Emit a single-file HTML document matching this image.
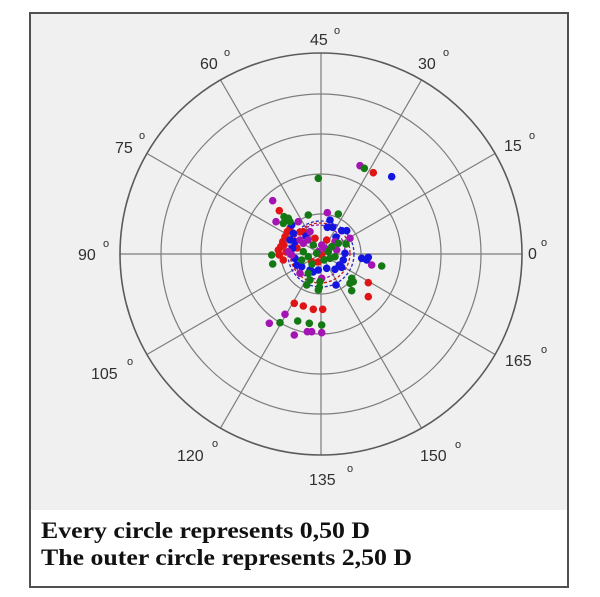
<!DOCTYPE html>
<html><head><meta charset="utf-8"><style>
html,body{margin:0;padding:0;background:#fff;}
svg{display:block;}
</style></head><body>
<svg width="600" height="597" viewBox="0 0 600 597" xmlns="http://www.w3.org/2000/svg">
<rect x="0" y="0" width="600" height="597" fill="#ffffff"/>
<rect x="30" y="13" width="538" height="497" fill="#f0f0f0"/>
<rect x="30" y="13" width="538" height="574" fill="none" stroke="#505050" stroke-width="2"/>
<g stroke="#7d7d7d" stroke-width="1.2" fill="none">
<circle cx="321" cy="254" r="40"/>
<circle cx="321" cy="254" r="80"/>
<circle cx="321" cy="254" r="120"/>
<circle cx="321" cy="254" r="160"/>
<line x1="120" y1="254" x2="522" y2="254"/>
<line x1="321" y1="53" x2="321" y2="455"/>
<line x1="495.1" y1="153.5" x2="146.9" y2="354.5"/>
<line x1="421.5" y1="79.9" x2="220.5" y2="428.1"/>
<line x1="220.5" y1="79.9" x2="421.5" y2="428.1"/>
<line x1="146.9" y1="153.5" x2="495.1" y2="354.5"/>
</g>
<circle cx="321" cy="254" r="201" fill="none" stroke="#5a5a5a" stroke-width="1.6"/>
<g font-family="Liberation Sans, Arial, sans-serif" font-size="16" fill="#303030">
<text x="528" y="259">0</text><text x="541" y="246" font-size="11">o</text>
<text x="504" y="151">15</text><text x="529" y="139" font-size="11">o</text>
<text x="418" y="69">30</text><text x="443" y="56" font-size="11">o</text>
<text x="310" y="45">45</text><text x="334" y="34" font-size="11">o</text>
<text x="200" y="69">60</text><text x="224" y="56" font-size="11">o</text>
<text x="115" y="153">75</text><text x="139" y="139" font-size="11">o</text>
<text x="78" y="260">90</text><text x="103" y="247" font-size="11">o</text>
<text x="91" y="379">105</text><text x="127" y="365" font-size="11">o</text>
<text x="177" y="461">120</text><text x="212" y="447" font-size="11">o</text>
<text x="309" y="485">135</text><text x="347" y="472" font-size="11">o</text>
<text x="420" y="461">150</text><text x="455" y="448" font-size="11">o</text>
<text x="505" y="366">165</text><text x="541" y="353" font-size="11">o</text>
</g>
<g fill="none" stroke-width="1.3" stroke-dasharray="3,2">
<circle cx="318" cy="252" r="27" stroke="#9018a8"/>
<circle cx="320" cy="253" r="30" stroke="#c81818"/>
<circle cx="321" cy="254" r="33" stroke="#2828c8"/>
</g>
<g fill="#e01414">
<circle cx="373.3" cy="172.7" r="3.8"/><circle cx="279.3" cy="210.7" r="3.8"/><circle cx="303.3" cy="231.7" r="3.8"/><circle cx="287.3" cy="231.7" r="3.8"/><circle cx="285" cy="236.7" r="3.8"/><circle cx="282.7" cy="241.7" r="3.8"/><circle cx="280.7" cy="246.7" r="3.8"/><circle cx="278.3" cy="250" r="3.8"/><circle cx="279.3" cy="255" r="3.8"/><circle cx="283.3" cy="260" r="3.8"/><circle cx="315" cy="238.3" r="3.8"/><circle cx="326.7" cy="240" r="3.8"/><circle cx="321.7" cy="255" r="3.8"/><circle cx="311.7" cy="261.7" r="3.8"/><circle cx="368.3" cy="282.7" r="3.8"/><circle cx="368.3" cy="296.7" r="3.8"/><circle cx="294.3" cy="303.3" r="3.8"/><circle cx="303.3" cy="306" r="3.8"/><circle cx="313.3" cy="309.3" r="3.8"/><circle cx="322.7" cy="309.3" r="3.8"/><circle cx="290" cy="228" r="3.8"/><circle cx="284" cy="245" r="3.8"/><circle cx="286" cy="252" r="3.8"/><circle cx="300" cy="232" r="3.8"/><circle cx="318" cy="262" r="3.8"/><circle cx="297" cy="248" r="3.8"/>
</g>
<g fill="#1414e0">
<circle cx="391.7" cy="176.7" r="3.8"/><circle cx="291.7" cy="225" r="3.8"/><circle cx="330" cy="220" r="3.8"/><circle cx="332.7" cy="227.3" r="3.8"/><circle cx="341.7" cy="230.7" r="3.8"/><circle cx="346.7" cy="230.7" r="3.8"/><circle cx="293.3" cy="233.3" r="3.8"/><circle cx="295" cy="241.7" r="3.8"/><circle cx="292.7" cy="248.3" r="3.8"/><circle cx="295" cy="258.3" r="3.8"/><circle cx="296.7" cy="265" r="3.8"/><circle cx="301.7" cy="266.7" r="3.8"/><circle cx="310" cy="270" r="3.8"/><circle cx="318.3" cy="270" r="3.8"/><circle cx="326.7" cy="268.3" r="3.8"/><circle cx="335" cy="269.3" r="3.8"/><circle cx="341.7" cy="267.3" r="3.8"/><circle cx="343.3" cy="260" r="3.8"/><circle cx="345" cy="253.3" r="3.8"/><circle cx="339.3" cy="265" r="3.8"/><circle cx="336" cy="285" r="3.8"/><circle cx="361.7" cy="258.3" r="3.8"/><circle cx="366.7" cy="260" r="3.8"/><circle cx="368.3" cy="257.3" r="3.8"/><circle cx="327.3" cy="227.3" r="3.8"/><circle cx="313" cy="272" r="3.8"/><circle cx="290" cy="240" r="3.8"/><circle cx="306" cy="236" r="3.8"/><circle cx="336" cy="237" r="3.8"/>
</g>
<g fill="#a414b4">
<circle cx="360" cy="165.7" r="3.8"/><circle cx="272.7" cy="200.7" r="3.8"/><circle cx="276" cy="221.7" r="3.8"/><circle cx="298.3" cy="221.7" r="3.8"/><circle cx="327.3" cy="212.7" r="3.8"/><circle cx="350" cy="238.3" r="3.8"/><circle cx="310" cy="231.7" r="3.8"/><circle cx="300" cy="240" r="3.8"/><circle cx="303.3" cy="243.3" r="3.8"/><circle cx="288.3" cy="251.7" r="3.8"/><circle cx="291.7" cy="255" r="3.8"/><circle cx="318.3" cy="251.7" r="3.8"/><circle cx="321.7" cy="245" r="3.8"/><circle cx="325" cy="248.3" r="3.8"/><circle cx="335" cy="241.7" r="3.8"/><circle cx="336.7" cy="250" r="3.8"/><circle cx="321.7" cy="278.3" r="3.8"/><circle cx="300" cy="273.3" r="3.8"/><circle cx="285" cy="314.3" r="3.8"/><circle cx="269.3" cy="323.3" r="3.8"/><circle cx="307.3" cy="331.7" r="3.8"/><circle cx="311.7" cy="331.7" r="3.8"/><circle cx="321.7" cy="332.7" r="3.8"/><circle cx="294.3" cy="335" r="3.8"/><circle cx="371.7" cy="265" r="3.8"/><circle cx="308" cy="240" r="3.8"/>
</g>
<g fill="#147814">
<circle cx="364.3" cy="168.3" r="3.8"/><circle cx="318.3" cy="178.3" r="3.8"/><circle cx="284" cy="216.7" r="3.8"/><circle cx="288.3" cy="218.3" r="3.8"/><circle cx="283.3" cy="223.3" r="3.8"/><circle cx="290" cy="221.7" r="3.8"/><circle cx="308.3" cy="215" r="3.8"/><circle cx="338.3" cy="214" r="3.8"/><circle cx="346" cy="244" r="3.8"/><circle cx="313.3" cy="245" r="3.8"/><circle cx="316.7" cy="253.3" r="3.8"/><circle cx="308.3" cy="256.7" r="3.8"/><circle cx="301.7" cy="260" r="3.8"/><circle cx="303.3" cy="251.7" r="3.8"/><circle cx="328.3" cy="251.7" r="3.8"/><circle cx="331.7" cy="246.7" r="3.8"/><circle cx="335" cy="256.7" r="3.8"/><circle cx="330" cy="258.3" r="3.8"/><circle cx="338.3" cy="243.3" r="3.8"/><circle cx="271.7" cy="255" r="3.8"/><circle cx="272.7" cy="264" r="3.8"/><circle cx="308.3" cy="273.3" r="3.8"/><circle cx="310" cy="280" r="3.8"/><circle cx="306.7" cy="285" r="3.8"/><circle cx="320" cy="281.7" r="3.8"/><circle cx="318.3" cy="290" r="3.8"/><circle cx="351.7" cy="278.3" r="3.8"/><circle cx="353.3" cy="281.7" r="3.8"/><circle cx="350" cy="283.3" r="3.8"/><circle cx="351.7" cy="290.7" r="3.8"/><circle cx="381.7" cy="266" r="3.8"/><circle cx="280" cy="322.7" r="3.8"/><circle cx="297.7" cy="321" r="3.8"/><circle cx="309.3" cy="323.3" r="3.8"/><circle cx="321.7" cy="325" r="3.8"/><circle cx="319.3" cy="287.3" r="3.8"/><circle cx="324" cy="260" r="3.8"/><circle cx="312" cy="264" r="3.8"/>
</g>
<g font-family="Liberation Serif, Times New Roman, serif" font-weight="bold" font-size="23" fill="#111">
<text x="41" y="538" textLength="329" lengthAdjust="spacingAndGlyphs">Every circle represents 0,50 D</text>
<text x="41" y="565" textLength="371" lengthAdjust="spacingAndGlyphs">The outer circle represents 2,50 D</text>
</g>
</svg>
</body></html>
